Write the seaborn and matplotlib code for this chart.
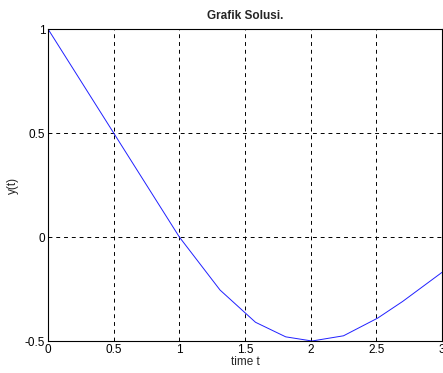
import matplotlib
matplotlib.use("Agg")
import matplotlib.pyplot as plt
import seaborn as sns
import pandas as pd

t_vals = [0.0, 0.5, 1.0, 1.31, 1.58, 1.81, 2.01, 2.25, 2.51, 2.70, 3.0]
y_vals = [1.0, 0.5, 0.0, -0.255, -0.41, -0.48, -0.50, -0.475, -0.39, -0.31, -0.17]
x_ticks = [0, 0.5, 1, 1.5, 2, 2.5, 3]
x_tick_labels = ["0", "0.5", "1", "1.5", "2", "2.5", "3"]
y_ticks = [-0.5, 0, 0.5, 1]
y_tick_labels = ["-0.5", "0", "0.5", "1"]

sns.set_style("white")
plt.rcParams['font.family'] = ['Liberation Sans', 'DejaVu Sans']

df = pd.DataFrame({"t": t_vals, "y": y_vals})

fig = plt.figure(figsize=(4.43, 3.73), dpi=100)
ax = fig.add_axes([48/443, 32/373, 394/443, 312/373])
sns.lineplot(data=df, x="t", y="y", ax=ax, color="#2020ff", linewidth=0.7)

ax.set_xlim(0, 3)
ax.set_ylim(-0.5, 1)
ax.set_xticks(x_ticks)
ax.set_xticklabels(x_tick_labels)
ax.set_yticks(y_ticks)
ax.set_yticklabels(y_tick_labels)
ax.grid(True, color="black", linestyle=(0, (4, 4)), linewidth=0.7)
ax.tick_params(direction="in", length=3, labelsize=8.5, pad=2, colors="black")
for s in ax.spines.values():
    s.set_color("black")
    s.set_linewidth(0.8)
ax.set_xlabel("time t", fontsize=8.5, labelpad=0)
ax.set_ylabel("y(t)", fontsize=8.5, labelpad=4)
ax.set_title("Grafik Solusi.", fontsize=8.5, fontweight="bold", pad=7)

fig.savefig("out.png", dpi=100)
